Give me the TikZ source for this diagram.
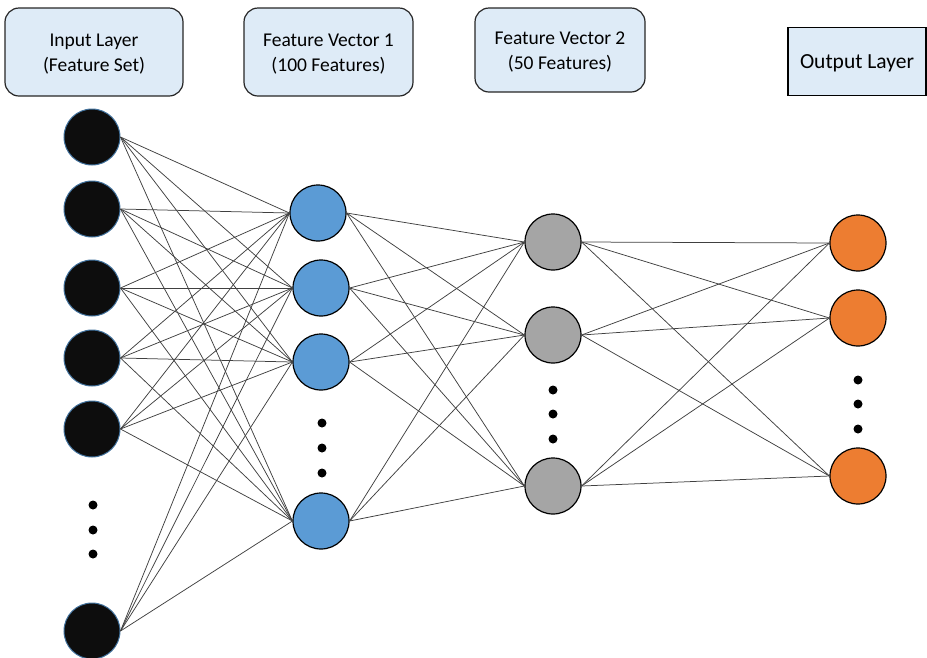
\documentclass[tikz,border=0pt]{standalone}
\usepackage{fontspec}
\setmainfont{Carlito}
\definecolor{boxfill}{HTML}{DEEBF7}
\definecolor{inrim}{HTML}{41719C}
\definecolor{inblack}{HTML}{0D0D0D}
\definecolor{hidblue}{HTML}{5B9BD5}
\definecolor{hidgray}{HTML}{A5A5A5}
\definecolor{outorange}{HTML}{ED7D31}
\definecolor{wire}{HTML}{404040}
\begin{document}
\begin{tikzpicture}[x=1pt,y=-1pt,
  label box/.style={draw=black!85, line width=1.2pt, fill=boxfill, rounded corners=14pt,
    inner sep=0pt},
  label text/.style={align=center, inner sep=0pt, font=\fontsize{19.5}{25}\selectfont},
  neuron/.style={circle, minimum size=56pt, inner sep=0pt, line width=1.2pt, draw=black},
  innode/.style={neuron, fill=inblack, draw=inrim, line width=1pt},
  bluenode/.style={neuron, fill=hidblue},
  graynode/.style={neuron, fill=hidgray},
  orangenode/.style={neuron, fill=outorange},
  edot/.style={circle, fill=black, minimum size=9pt, inner sep=0pt},
  wireline/.style={draw=wire, line width=0.75pt}
]
\useasboundingbox (0,0) rectangle (927,657);

% layer captions: frame and two-line text
\node[label box, minimum width=178pt, minimum height=88pt] (cap1) at (94,52) {};
\node[label text] (t1) at (94,54) {Input Layer\\(Feature Set)};
\node[label box, minimum width=169pt, minimum height=88pt] (cap2) at (328.5,52) {};
\node[label text] (t2) at (328.5,54) {Feature Vector 1\\(100 Features)};
\node[label box, minimum width=170pt, minimum height=84pt] (cap3) at (560,50) {};
\node[label text] (t3) at (560,52) {Feature Vector 2\\(50 Features)};
\node[label box, draw=black, line width=1.4pt, rounded corners=0pt, minimum width=138pt,
  minimum height=68pt] (cap4) at (857,61.5) {};
\node[label text, font=\fontsize{21.5}{26}\selectfont] (t4) at (857,63) {Output Layer};

% input layer
\foreach \i/\y in {1/137,2/209,3/288,4/358,5/429,6/631}
  \node[innode] (a\i) at (92,\y) {};
\foreach \j/\y in {1/505,2/530,3/554}
  \node[edot] (ad\j) at (93,\y) {};

% feature vector 1
\foreach \i/\x/\y in {1/318/213,2/321/288,3/321/362,4/321/521}
  \node[bluenode] (b\i) at (\x,\y) {};
\foreach \j/\y in {1/423,2/448,3/473}
  \node[edot] (bd\j) at (322,\y) {};

% feature vector 2
\foreach \i/\y in {1/242,2/335,3/486}
  \node[graynode] (c\i) at (553,\y) {};
\foreach \j/\y in {1/390,2/414,3/439}
  \node[edot] (cd\j) at (553,\y) {};

% output layer
\foreach \i/\y in {1/243,2/318,3/476}
  \node[orangenode] (d\i) at (858,\y) {};
\foreach \j/\y in {1/380,2/404,3/429}
  \node[edot] (dd\j) at (858,\y) {};

% connections: every unit feeds every unit of the next layer
\foreach \i in {1,...,6}
  \foreach \k in {1,...,4}
    \draw[wireline] (a\i.east) -- (b\k.west);
\foreach \i in {1,...,4}
  \foreach \k in {1,...,3}
    \draw[wireline] (b\i.east) -- (c\k.west);
\foreach \i in {1,...,3}
  \foreach \k in {1,...,3}
    \draw[wireline] (c\i.east) -- (d\k.west);
\end{tikzpicture}
\end{document}
